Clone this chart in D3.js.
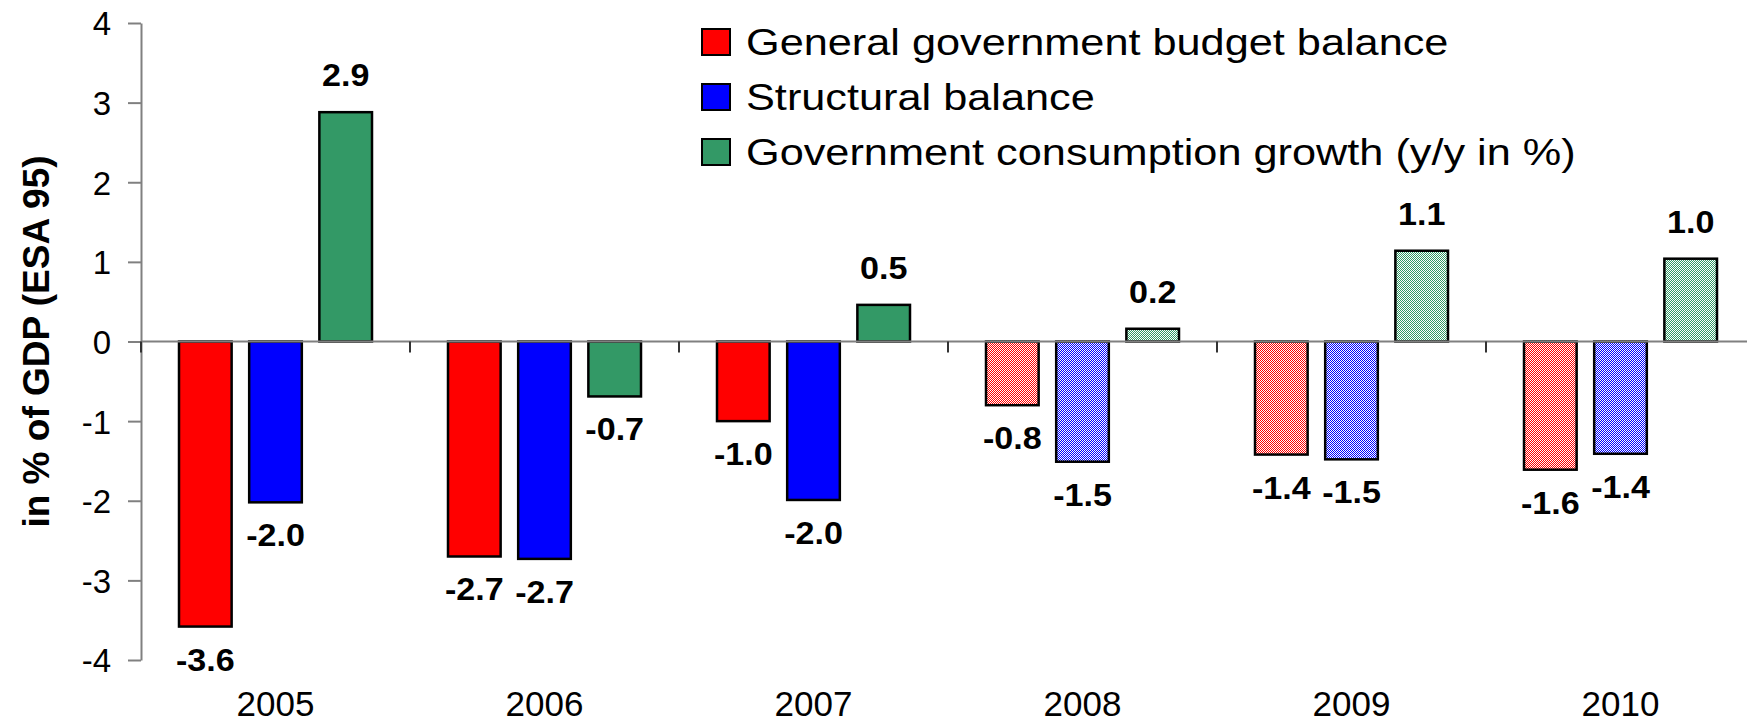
<!DOCTYPE html>
<html>
<head>
<meta charset="utf-8">
<script src="https://cdn.jsdelivr.net/npm/d3@7/dist/d3.min.js"></script>
<style>
  html, body { margin: 0; padding: 0; background: #fff; }
  svg { display: block; font-family: "Liberation Sans", Arial, sans-serif; }
</style>
</head>
<body>
<svg id="chart" width="1747" height="725"></svg>
<script>
// ---- data ----
const years = ["2005", "2006", "2007", "2008", "2009", "2010"];
const forecastYears = ["2008", "2009", "2010"];
const seriesKeys = ["budget", "structural", "consumption"];
const seriesNames = [
  "General government budget balance",
  "Structural balance",
  "Government consumption growth (y/y in %)"
];
const seriesColors = ["#FF0000", "#0000FF", "#339966"];
const budgetBalance     = [-3.58, -2.70, -1.00, -0.80, -1.42, -1.61];
const structuralBalance = [-2.02, -2.73, -1.99, -1.51, -1.48, -1.41];
const govConsumption    = [ 2.88, -0.69,  0.46,  0.16,  1.14,  1.04];
const yTicks = [-4, -3, -2, -1, 0, 1, 2, 3, 4];
const yTitle = "in % of GDP (ESA 95)";

const seriesValues = [budgetBalance, structuralBalance, govConsumption];

// ---- layout ----
const W = 1747, H = 725;
const svg = d3.select("#chart");
const fmt = d3.formatLocale({decimal: ".", thousands: ",", grouping: [3], currency: ["", ""], minus: "-"}).format(".1f");

const y = d3.scaleLinear().domain([-4, 4]).range([660, 23]);
const x0 = d3.scaleBand().domain(years).range([141, 1755]);
const x1 = d3.scaleBand().domain(seriesKeys).range([38, 231]).paddingInner(0.25);

// patterns for forecast years
const defs = svg.append("defs");
seriesKeys.forEach((k, i) => {
  const p = defs.append("pattern").attr("id", "pat-" + k)
    .attr("patternUnits", "userSpaceOnUse").attr("width", 2).attr("height", 2);
  p.append("rect").attr("width", 2).attr("height", 2).attr("fill", seriesColors[i]);
  p.append("rect").attr("x", 0).attr("y", 0).attr("width", 1).attr("height", 1).attr("fill", "#fff");
  p.append("rect").attr("x", 1).attr("y", 1).attr("width", 1).attr("height", 1).attr("fill", "#fff");
});

// y axis
const yAxis = svg.append("g").attr("transform", "translate(141,0)")
  .call(d3.axisLeft(y).tickValues(yTicks).tickSize(13).tickSizeOuter(0).tickFormat(() => ""));
yAxis.select(".domain").attr("stroke", "#808080").attr("stroke-width", 2);
yAxis.selectAll(".tick line").attr("stroke", "#808080").attr("stroke-width", 2);
yAxis.selectAll(".tick").append("text")
  .attr("transform", "translate(-30,0)")
  .attr("dy", "0.36em")
  .attr("text-anchor", "end").attr("font-size", 33).attr("fill", "#000")
  .attr("font-family", "Liberation Sans, Arial, sans-serif")
  .text(d => d < 0 ? "-" + Math.abs(d) : String(d));

// y title
svg.append("text")
  .attr("transform", `translate(49,${(y(4) + y(-4)) / 2}) rotate(-90)`)
  .attr("text-anchor", "middle").attr("font-size", 37).attr("font-weight", "bold")
  .text(yTitle);

// bars
const groups = svg.append("g").selectAll("g").data(years).join("g")
  .attr("transform", d => `translate(${x0(d)},0)`);

groups.each(function (yr, yi) {
  const g = d3.select(this);
  seriesKeys.forEach((k, si) => {
    const v = seriesValues[si][yi];
    const forecast = forecastYears.includes(yr);
    g.append("rect")
      .attr("x", x1(k)).attr("width", x1.bandwidth())
      .attr("y", y(Math.max(0, v))).attr("height", Math.abs(y(v) - y(0)))
      .attr("fill", forecast ? `url(#pat-${k})` : seriesColors[si])
      .attr("stroke", "#000").attr("stroke-width", 2.5);
    const lx = x1(k) + x1.bandwidth() / 2;
    const ly = v >= 0 ? y(v) - 26 : y(v) + 44;
    g.append("text")
      .attr("transform", `translate(${lx},${ly}) scale(1.1,1)`)
      .attr("text-anchor", "middle").attr("font-size", 31).attr("font-weight", "bold")
      .text(fmt(v));
  });
});

// x axis line and boundary ticks
svg.append("line").attr("x1", 141).attr("x2", W).attr("y1", y(0)).attr("y2", y(0))
  .attr("stroke", "#808080").attr("stroke-width", 2);
svg.append("g").selectAll("line").data(years).join("line")
  .attr("x1", d => x0(d)).attr("x2", d => x0(d))
  .attr("y1", y(0)).attr("y2", y(0) + 11)
  .attr("stroke", "#333").attr("stroke-width", 2);

// x labels
const xAxis = svg.append("g").attr("transform", `translate(0,${y(0)})`)
  .call(d3.axisBottom(x0).tickSize(0).tickSizeOuter(0));
xAxis.select(".domain").remove();
xAxis.selectAll(".tick text").attr("font-size", 35).attr("fill", "#000")
  .attr("font-family", "Liberation Sans, Arial, sans-serif")
  .attr("y", 716 - y(0)).attr("dy", 0);

// legend
const legend = svg.append("g").attr("transform", "translate(702,0)");
seriesNames.forEach((name, i) => {
  const base = 55 + i * 55;
  legend.append("rect").attr("x", 0).attr("y", base - 26).attr("width", 28).attr("height", 26)
    .attr("fill", seriesColors[i]).attr("stroke", "#000").attr("stroke-width", 2);
  legend.append("text").attr("transform", `translate(44,${base}) scale(1.17,1)`)
    .attr("font-size", 37).text(name);
});
</script>
</body>
</html>
